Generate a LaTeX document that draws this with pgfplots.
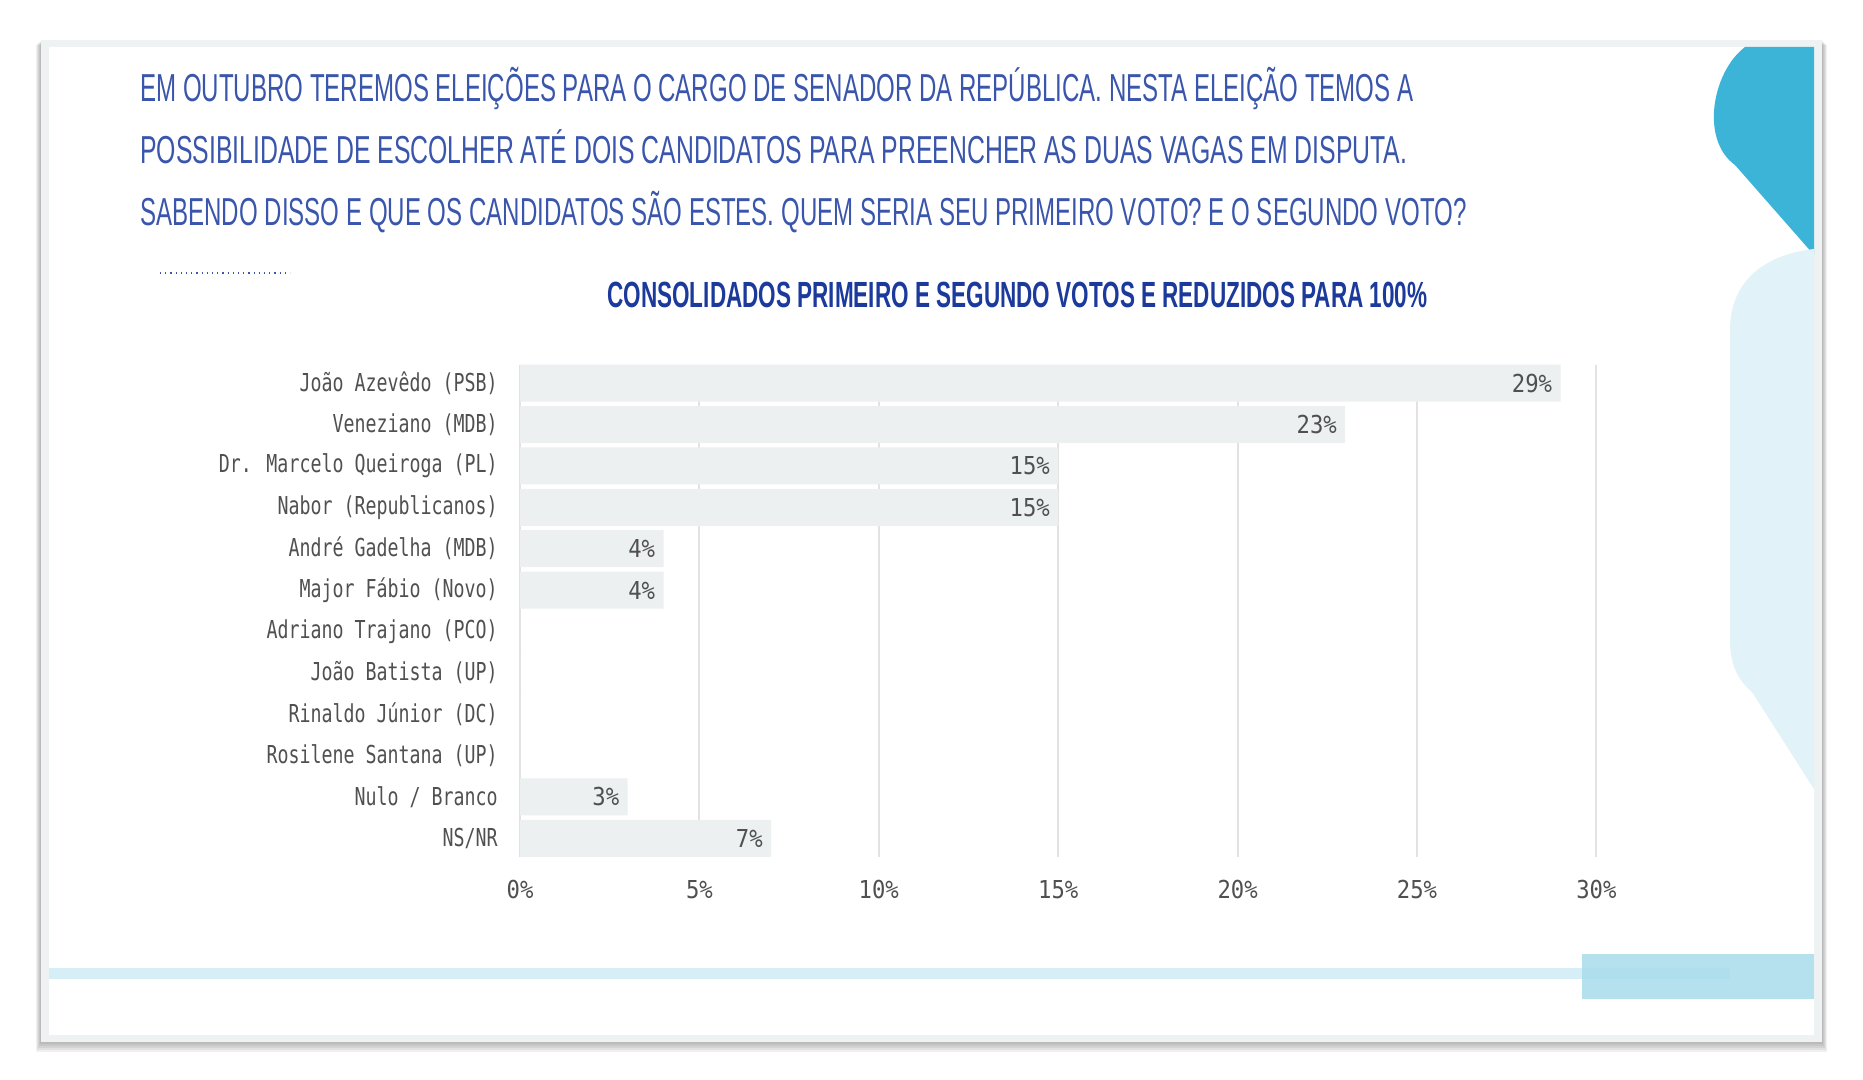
\documentclass[border=0pt]{standalone}
\usepackage{pgfplots}
\pgfplotsset{compat=1.18}
\usepackage{pgfplotstable}
\usepackage{graphicx}
\usepackage{fontspec}
\setmainfont{Liberation Sans}
\newfontfamily\labfont[FakeStretch=0.74]{DejaVu Sans Mono}
\newfontfamily\numfont[FakeStretch=0.9]{DejaVu Sans Mono}

\definecolor{barc}{HTML}{ECF0F1}
\definecolor{gridc}{HTML}{E2E2E2}
\definecolor{labc}{HTML}{505050}
\definecolor{titc}{HTML}{3A56AC}
\definecolor{subc}{HTML}{1B3A9C}
\definecolor{shapedark}{HTML}{3BB4D8}
\definecolor{shapelight}{HTML}{E1F3F8}
\definecolor{linec}{HTML}{D6EEF5}
\definecolor{rectc}{HTML}{A9DCEC}
\definecolor{framec}{HTML}{EEF2F2}

% votos consolidados (posicao 11 = topo)
\pgfplotstableread{
pos val lab
11 29 {29\%}
10 23 {23\%}
9  15 {15\%}
8  15 {15\%}
7  4  {4\%}
6  4  {4\%}
5  0  {}
4  0  {}
3  0  {}
2  0  {}
1  3  {3\%}
0  7  {7\%}
}\votos

\begin{document}
\begin{tikzpicture}
\begin{scope}[x=0.5pt,y=-0.5pt]
  \fill[white] (0,0) rectangle (1863,1080);
  % sombra do quadro
  \foreach \i in {1,...,5}{
    \fill[black,opacity=0.06] (41-\i,40+\i) rectangle (1822+\i,1042+2*\i);
  }
  \fill[framec] (41,40) rectangle (1822,1042);
  \fill[white] (49,47) rectangle (1814,1035);
  % formas decorativas
  \fill[shapedark] (1745,47) .. controls (1712,72) and (1700,140) .. (1735,165)
    -- (1814,255) -- (1814,47) -- cycle;
  \fill[shapelight] (1814,249) .. controls (1760,255) and (1730,285) .. (1730,330)
    -- (1730,640) .. controls (1730,665) and (1738,680) .. (1752,692)
    -- (1814,789) -- cycle;
  \fill[linec] (49,968) rectangle (1730,979);
  \fill[rectc,opacity=0.85] (1582,954) rectangle (1814,999);
  \draw[titc,dotted,line width=0.6pt] (160,273) -- (290,273);
  % titulo
  \begin{scope}[every node/.style={anchor=base west,inner sep=0pt,
      font=\fontsize{19.5pt}{22pt}\selectfont}]
    \node[text=titc] at (140,102) {\resizebox{636.5pt}{\height}{EM OUTUBRO TEREMOS ELEIÇÕES PARA O CARGO DE SENADOR DA REPÚBLICA. NESTA ELEIÇÃO TEMOS A}};
    \node[text=titc] at (140,164) {\resizebox{633.5pt}{\height}{POSSIBILIDADE DE ESCOLHER ATÉ DOIS CANDIDATOS PARA PREENCHER AS DUAS VAGAS EM DISPUTA.}};
    \node[text=titc] at (140,226) {\resizebox{663pt}{\height}{SABENDO DISSO E QUE OS CANDIDATOS SÃO ESTES. QUEM SERIA SEU PRIMEIRO VOTO? E O SEGUNDO VOTO?}};
  \end{scope}
  \node[anchor=base west,inner sep=0pt,text=subc,
      font=\bfseries\fontsize{18.2pt}{21pt}\selectfont]
    at (607,308) {\resizebox{410pt}{\height}{CONSOLIDADOS PRIMEIRO E SEGUNDO VOTOS E REDUZIDOS PARA 100\%}};
\end{scope}

\begin{axis}[
  at={(260pt,-428.5pt)}, anchor=south west,
  scale only axis, width=538.2pt, height=246.25pt,
  xmin=0, xmax=30, ymin=-0.45, ymax=11.45,
  xbar, bar width=18.5pt, bar shift=0pt,
  axis line style={draw=none},
  major tick length=0pt, tick style={draw=none},
  xmajorgrids, grid style={draw=gridc,line width=1pt},
  xtick={0,5,...,30},
  /pgf/number format/assume math mode=true,
  xticklabel={\pgfmathprintnumber{\tick}\%},
  xticklabel style={font=\numfont\fontsize{12.35pt}{14pt}\selectfont,
    text=labc, anchor=base, inner sep=0pt, yshift=-20.5pt},
  ytick={0,...,11},
  yticklabels={NS/NR, Nulo / Branco, Rosilene Santana (UP), Rinaldo Júnior (DC),
    João Batista (UP), Adriano Trajano (PCO), Major Fábio (Novo),
    André Gadelha (MDB), Nabor (Republicanos), Dr. Marcelo Queiroga (PL),
    Veneziano (MDB), João Azevêdo (PSB)},
  yticklabel style={font=\labfont\fontsize{12.35pt}{14pt}\selectfont,
    text=labc, anchor=east, inner sep=0pt, xshift=-11pt},
  nodes near coords,
  point meta=explicit symbolic,
  nodes near coords align={anchor=east},
  every node near coord/.append style={font=\numfont\fontsize{12.35pt}{14pt}\selectfont,
    text=labc, inner sep=0pt, xshift=-4pt},
]
\addplot[fill=barc, draw=none] table[x=val, y=pos, meta=lab] {\votos};
\end{axis}
\end{tikzpicture}
\end{document}
